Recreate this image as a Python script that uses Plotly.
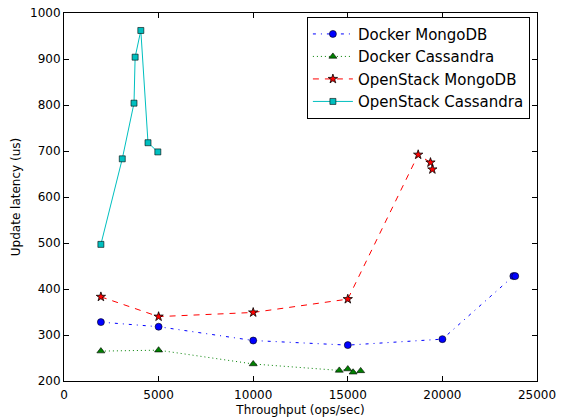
import plotly.graph_objects as go

dm_x = [1950, 5000, 10000, 15000, 20000, 23750, 23850]
dm_y = [328, 318, 288, 278, 291, 428, 428]

dc_x = [1950, 5000, 10000, 14550, 15000, 15280, 15680]
dc_y = [265, 267, 237, 223, 226, 219, 222]

om_x = [1950, 5000, 10000, 15000, 18720, 19370, 19470]
om_y = [383, 340, 349, 378, 692, 675, 660]

oc_x = [1950, 3080, 3700, 3760, 4060, 4440, 4960]
oc_y = [497, 683, 804, 904, 962, 718, 698]

names = ["Docker MongoDB", "Docker Cassandra", "OpenStack MongoDB", "OpenStack Cassandra"]

fig = go.Figure()
fig.add_trace(go.Scatter(x=dm_x, y=dm_y, name=names[0], mode="lines+markers",
    line=dict(color="#0000ff", width=1, dash="3px,5px,1px,5px"),
    marker=dict(symbol="circle", size=7, color="#0000ff", line=dict(color="black", width=0.6))))
fig.add_trace(go.Scatter(x=dc_x, y=dc_y, name=names[1], mode="lines+markers",
    line=dict(color="#008000", width=1, dash="1px,3px"),
    marker=dict(symbol="triangle-up", size=7, color="#008000", line=dict(color="black", width=0.6))))
fig.add_trace(go.Scatter(x=om_x, y=om_y, name=names[2], mode="lines+markers",
    line=dict(color="#ff0000", width=1, dash="6px,6px"),
    marker=dict(symbol="star", size=7, color="#ff0000", line=dict(color="black", width=0.8))))
fig.add_trace(go.Scatter(x=oc_x, y=oc_y, name=names[3], mode="lines+markers",
    line=dict(color="#00bfbf", width=1, dash="solid"),
    marker=dict(symbol="square", size=6, color="#00bfbf", line=dict(color="black", width=0.6))))

axis_common = dict(showline=True, linecolor="black", linewidth=1, mirror="ticks",
                   ticks="inside", ticklen=5, tickcolor="black", showgrid=False,
                   zeroline=False, automargin=False, tickfont=dict(size=12, color="black"))

fig.update_layout(
    width=561, height=419,
    margin=dict(l=64, r=24, t=13, b=38, autoexpand=False),
    paper_bgcolor="white", plot_bgcolor="white",
    font=dict(family="DejaVu Sans", size=12, color="black"),
    xaxis=dict(range=[0, 25000], tickvals=[0, 5000, 10000, 15000, 20000, 25000],
               ticktext=["0", "5000", "10000", "15000", "20000", "25000"],
               ticklabelstandoff=3,
               title=dict(text="Throughput (ops/sec)", standoff=4, font=dict(size=12)), **axis_common),
    yaxis=dict(range=[200, 1000], tickvals=list(range(200, 1001, 100)),
               title=dict(text="Update latency (us)", standoff=6, font=dict(size=12)), **axis_common),
    legend=dict(x=0.985, y=0.99, xanchor="right", yanchor="top",
                bordercolor="black", borderwidth=1, bgcolor="white",
                font=dict(size=15), tracegroupgap=0, itemwidth=40),
    showlegend=True,
)

fig.write_html("out.html")
